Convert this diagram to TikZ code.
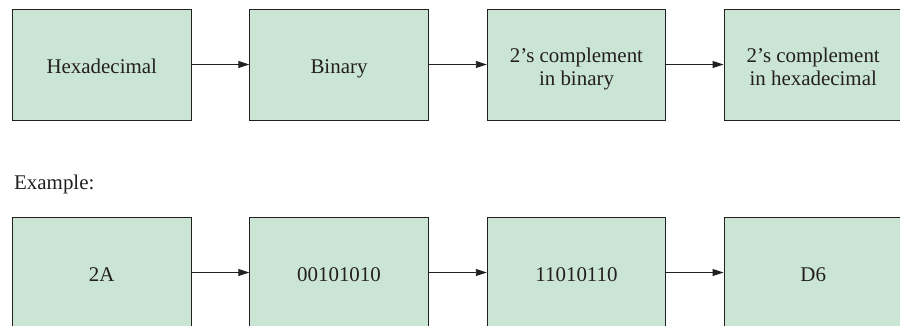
\documentclass[tikz,border=0pt]{standalone}
\usepackage{fontspec}
\setmainfont{Liberation Serif}
\usetikzlibrary{arrows.meta}
\definecolor{boxfill}{RGB}{203,229,213}
\definecolor{ink}{RGB}{35,31,32}
\newcommand{\twolines}[2]{\begin{tabular}[t]{@{}c@{}}#1\\#2\end{tabular}}
\begin{document}
\begin{tikzpicture}[x=1bp,y=-1bp,
  stepbox/.style={draw=ink,line width=0.9bp,fill=boxfill,minimum width=178.5bp,minimum height=111bp,inner sep=0pt,text=ink,font=\fontsize{21}{23}\selectfont,text height=17.6bp,text depth=0pt},
  twobox/.style={stepbox,text height=0pt,text depth=3.6bp},
  conn/.style={draw=ink,line width=0.9bp,-{Triangle[length=11bp,width=7bp]}}]
\useasboundingbox (0,0) rectangle (900,325);
\clip (0,0) rectangle (900,325);
\node[stepbox] (h) at (101.75,64.5) {Hexadecimal};
\node[stepbox] (b) at (339,64.5) {Binary};
\node[twobox] (c) at (576.5,64.5) {\twolines{2’s complement}{in binary}};
\node[twobox] (d) at (813.25,64.5) {\twolines{2’s complement}{in hexadecimal}};
\draw[conn] (h) -- (b);
\draw[conn] (b) -- (c);
\draw[conn] (c) -- (d);
\node[anchor=base west,inner sep=0pt,text=ink,font=\fontsize{21}{23}\selectfont] (ex) at (14,189) {Example:};
\node[stepbox] (h2) at (101.75,272.5) {2A};
\node[stepbox] (b2) at (339,272.5) {00101010};
\node[stepbox] (c2) at (576.5,272.5) {11010110};
\node[stepbox] (d2) at (813.25,272.5) {D6};
\draw[conn] (h2) -- (b2);
\draw[conn] (b2) -- (c2);
\draw[conn] (c2) -- (d2);
\end{tikzpicture}
\end{document}
